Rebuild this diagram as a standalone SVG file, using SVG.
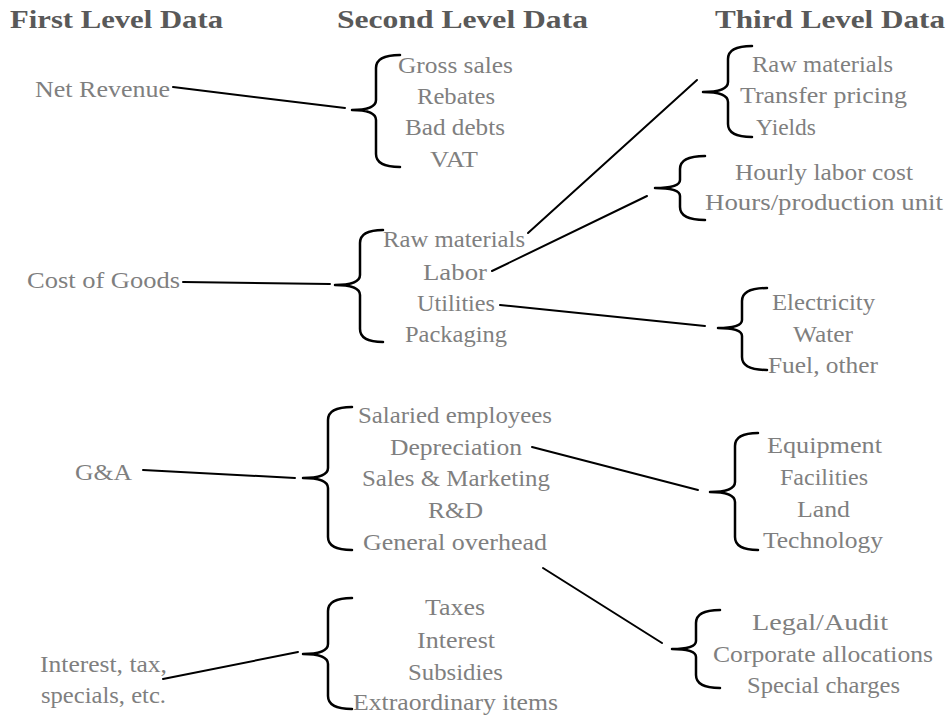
<svg xmlns="http://www.w3.org/2000/svg" width="949" height="719" viewBox="0 0 949 719">
<style>
.h{font-family:"Liberation Serif","Times New Roman",serif;font-weight:bold;font-size:26px;fill:#595959}
.t{font-family:"Liberation Serif","Times New Roman",serif;font-size:24px;fill:#7f7f7f}
.b{fill:none;stroke:#000;stroke-width:2.5;stroke-linecap:round;stroke-linejoin:round}
.c{fill:none;stroke:#000;stroke-width:2;stroke-linecap:round}
</style>
<rect width="949" height="719" fill="#fff"/>
<g id="headers">
<text class="h" x="10" y="28" textLength="213" lengthAdjust="spacingAndGlyphs">First Level Data</text>
<text class="h" x="337" y="28" textLength="251" lengthAdjust="spacingAndGlyphs">Second Level Data</text>
<text class="h" x="715" y="28" textLength="230" lengthAdjust="spacingAndGlyphs">Third Level Data</text>
</g>
<g id="connectors">
<line class="c" x1="173" y1="87" x2="345" y2="108"/>
<line class="c" x1="183" y1="282" x2="330" y2="284"/>
<line class="c" x1="143" y1="470" x2="295" y2="478"/>
<line class="c" x1="163" y1="679" x2="298" y2="652"/>
<line class="c" x1="528" y1="233" x2="697" y2="80"/>
<line class="c" x1="492" y1="271" x2="647" y2="196"/>
<line class="c" x1="500" y1="305" x2="705" y2="326"/>
<line class="c" x1="532" y1="447" x2="698" y2="490"/>
<line class="c" x1="543" y1="568" x2="662" y2="643"/>
</g>
<g id="net-revenue">
<text class="t" x="35" y="97" textLength="135" lengthAdjust="spacingAndGlyphs">Net Revenue</text>
</g>
<g id="cost-of-goods">
<text class="t" x="27" y="288" textLength="153" lengthAdjust="spacingAndGlyphs">Cost of Goods</text>
</g>
<g id="ga">
<text class="t" x="75" y="480" textLength="57" lengthAdjust="spacingAndGlyphs">G&amp;A</text>
</g>
<g id="interest-tax">
<text class="t" x="40" y="672" textLength="127" lengthAdjust="spacingAndGlyphs">Interest, tax,</text>
<text class="t" x="41" y="703" textLength="125" lengthAdjust="spacingAndGlyphs">specials, etc.</text>
</g>
<g id="revenue-items">
<path class="b" d="M400,55 Q376,55 376,68 L376,100 Q376,110 352,110 Q376,110 376,120 L376,154 Q376,167 400,167"/>
<text class="t" x="398" y="73" textLength="115" lengthAdjust="spacingAndGlyphs">Gross sales</text>
<text class="t" x="417" y="104" textLength="78" lengthAdjust="spacingAndGlyphs">Rebates</text>
<text class="t" x="405" y="135" textLength="100" lengthAdjust="spacingAndGlyphs">Bad debts</text>
<text class="t" x="430" y="167" textLength="48" lengthAdjust="spacingAndGlyphs">VAT</text>
</g>
<g id="cogs-items">
<path class="b" d="M383,230 Q360,230 360,243 L360,275 Q360,285 335,285 Q360,285 360,295 L360,329 Q360,342 383,342"/>
<text class="t" x="383" y="247" textLength="142" lengthAdjust="spacingAndGlyphs">Raw materials</text>
<text class="t" x="423" y="280" textLength="64" lengthAdjust="spacingAndGlyphs">Labor</text>
<text class="t" x="417" y="311" textLength="78" lengthAdjust="spacingAndGlyphs">Utilities</text>
<text class="t" x="405" y="342" textLength="102" lengthAdjust="spacingAndGlyphs">Packaging</text>
</g>
<g id="ga-items">
<path class="b" d="M352,407 Q328,407 328,420 L328,468 Q328,478 303,478 Q328,478 328,488 L328,537 Q328,550 352,550"/>
<text class="t" x="358" y="423" textLength="194" lengthAdjust="spacingAndGlyphs">Salaried employees</text>
<text class="t" x="390" y="455" textLength="132" lengthAdjust="spacingAndGlyphs">Depreciation</text>
<text class="t" x="362" y="486" textLength="188" lengthAdjust="spacingAndGlyphs">Sales &amp; Marketing</text>
<text class="t" x="428" y="518" textLength="55" lengthAdjust="spacingAndGlyphs">R&amp;D</text>
<text class="t" x="363" y="550" textLength="184" lengthAdjust="spacingAndGlyphs">General overhead</text>
</g>
<g id="interest-items">
<path class="b" d="M352,598 Q328,598 328,611 L328,644 Q328,654 303,654 Q328,654 328,664 L328,696 Q328,709 352,709"/>
<text class="t" x="425" y="615" textLength="60" lengthAdjust="spacingAndGlyphs">Taxes</text>
<text class="t" x="417" y="648" textLength="78" lengthAdjust="spacingAndGlyphs">Interest</text>
<text class="t" x="408" y="680" textLength="95" lengthAdjust="spacingAndGlyphs">Subsidies</text>
<text class="t" x="353" y="710" textLength="205" lengthAdjust="spacingAndGlyphs">Extraordinary items</text>
</g>
<g id="raw-materials-items">
<path class="b" d="M752,46 Q728,46 728,59 L728,82 Q728,92 703,92 Q728,92 728,102 L728,124 Q728,137 752,137"/>
<text class="t" x="752" y="72" textLength="141" lengthAdjust="spacingAndGlyphs">Raw materials</text>
<text class="t" x="740" y="103" textLength="167" lengthAdjust="spacingAndGlyphs">Transfer pricing</text>
<text class="t" x="756" y="135" textLength="60" lengthAdjust="spacingAndGlyphs">Yields</text>
</g>
<g id="labor-items">
<path class="b" d="M705,156 Q680,156 680,169 L680,180 Q680,188 655,188 Q680,188 680,196 L680,207 Q680,220 705,220"/>
<text class="t" x="735" y="180" textLength="178" lengthAdjust="spacingAndGlyphs">Hourly labor cost</text>
<text class="t" x="705" y="210" textLength="238" lengthAdjust="spacingAndGlyphs">Hours/production unit</text>
</g>
<g id="utilities-items">
<path class="b" d="M767,288 Q742,288 742,301 L742,320 Q742,328 718,328 Q742,328 742,336 L742,357 Q742,370 767,370"/>
<text class="t" x="772" y="310" textLength="103" lengthAdjust="spacingAndGlyphs">Electricity</text>
<text class="t" x="793" y="342" textLength="60" lengthAdjust="spacingAndGlyphs">Water</text>
<text class="t" x="768" y="373" textLength="110" lengthAdjust="spacingAndGlyphs">Fuel, other</text>
</g>
<g id="depreciation-items">
<path class="b" d="M758,433 Q735,433 735,446 L735,482 Q735,492 710,492 Q735,492 735,502 L735,537 Q735,550 758,550"/>
<text class="t" x="767" y="453" textLength="115" lengthAdjust="spacingAndGlyphs">Equipment</text>
<text class="t" x="780" y="485" textLength="88" lengthAdjust="spacingAndGlyphs">Facilities</text>
<text class="t" x="797" y="517" textLength="53" lengthAdjust="spacingAndGlyphs">Land</text>
<text class="t" x="763" y="548" textLength="120" lengthAdjust="spacingAndGlyphs">Technology</text>
</g>
<g id="overhead-items">
<path class="b" d="M720,610 Q696,610 696,623 L696,641 Q696,649 672,649 Q696,649 696,657 L696,675 Q696,688 720,688"/>
<text class="t" x="752" y="630" textLength="136" lengthAdjust="spacingAndGlyphs">Legal/Audit</text>
<text class="t" x="713" y="662" textLength="220" lengthAdjust="spacingAndGlyphs">Corporate allocations</text>
<text class="t" x="747" y="693" textLength="153" lengthAdjust="spacingAndGlyphs">Special charges</text>
</g>
</svg>
